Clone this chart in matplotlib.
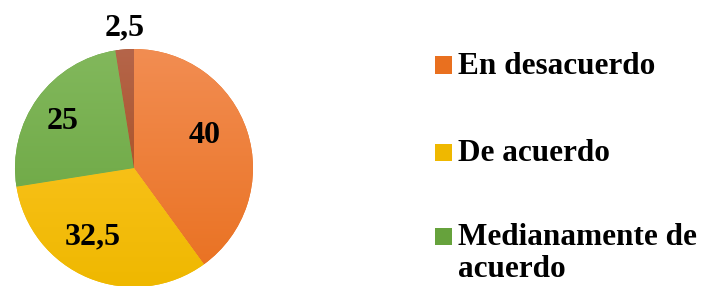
import numpy as np
import matplotlib
matplotlib.use("Agg")
import matplotlib.pyplot as plt
from matplotlib.colors import LinearSegmentedColormap
from matplotlib.patches import Rectangle

values = [40, 32.5, 25, 2.5]
labels = ["En desacuerdo", "De acuerdo", "Medianamente de\nacuerdo", "Otro"]
value_text = ["40", "32,5", "25", "2,5"]
# (top colour, bottom colour) for each slice gradient
grads = [("#F28D52", "#E9701F"),
         ("#FFC82E", "#EFB800"),
         ("#82B85C", "#66A23C"),
         ("#B5654A", "#A2460E")]
label_pos = [(0.59, 0.27), (-0.35, -0.58), (-0.60, 0.39), (-0.08, 1.18)]

plt.rcParams['font.family'] = ['Liberation Serif', 'DejaVu Serif']

fig = plt.figure(figsize=(7.05, 2.86), dpi=100)
W, H = 705, 286
cx, cy, r = 134, 168, 119
ax = fig.add_axes([(cx - r) / W, (H - cy - r) / H, 2 * r / W, 2 * r / H])

wedges, _ = ax.pie(values, startangle=90, counterclock=False, radius=1,
                   colors=[g[1] for g in grads],
                   wedgeprops=dict(edgecolor="none"))

ys = np.linspace(1, 0, 256).reshape(-1, 1)
for w, (top, bot) in zip(wedges, grads):
    cmap = LinearSegmentedColormap.from_list("g", [bot, top])
    im = ax.imshow(ys, cmap=cmap, extent=(-1, 1, -1, 1), aspect="auto",
                   vmin=0, vmax=1, zorder=2)
    im.set_clip_path(w)

for t, (x, y) in zip(value_text, label_pos):
    ax.text(x, y, t, ha="center", va="center", fontsize=23,
            fontweight="bold", color="black", zorder=5)

ax.set_xlim(-1, 1)
ax.set_ylim(-1, 1)
ax.axis("off")

# legend drawn by hand (first three entries only, as in the original)
rows = [65, 152, 236]
for i, yc in enumerate(rows):
    fig.patches.append(Rectangle((435 / W, (H - yc - 8.5) / H), 17 / W, 17 / H,
                                 transform=fig.transFigure, figure=fig,
                                 facecolor=grads[i][1], edgecolor="none"))
    fig.text(458 / W, (H - yc + 13) / H, labels[i], ha="left", va="top",
             fontsize=22.5, fontweight="bold", linespacing=1.12)

fig.savefig("out.png", dpi=100)
